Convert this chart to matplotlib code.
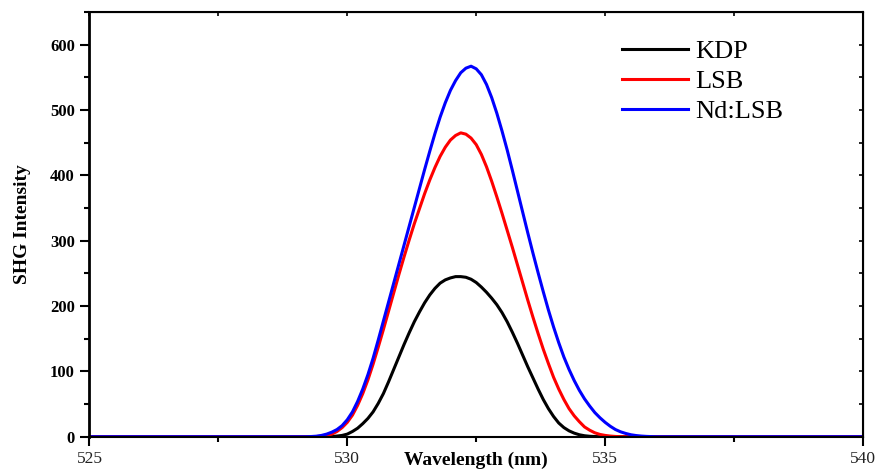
import matplotlib
matplotlib.use("Agg")
import matplotlib.pyplot as plt
from matplotlib.ticker import MultipleLocator

plt.rcParams['font.family'] = ['Liberation Serif', 'DejaVu Serif']

# wavelength grid (nm) the curves were read at
wavelength = [525.0,
              529.0, 529.1, 529.2, 529.3, 529.4, 529.5, 529.6, 529.7, 529.8, 529.9,
              530.0, 530.1, 530.2, 530.3, 530.4, 530.5, 530.6, 530.7, 530.8, 530.9,
              531.0, 531.1, 531.2, 531.3, 531.4, 531.5, 531.6, 531.7, 531.8, 531.9,
              532.0, 532.1, 532.2, 532.3, 532.4, 532.5, 532.6, 532.7, 532.8, 532.9,
              533.0, 533.1, 533.2, 533.3, 533.4, 533.5, 533.6, 533.7, 533.8, 533.9,
              534.0, 534.1, 534.2, 534.3, 534.4, 534.5, 534.6, 534.7, 534.8, 534.9,
              535.0, 535.1, 535.2, 535.3, 535.4, 535.5, 535.6, 535.7, 535.8, 535.9,
              536.0, 540.0]

kdp = [0,
       0, 0, 0, 0, 0, 0, 0.1, 0.3, 1, 2,
       4, 8, 13, 20, 28, 38, 51, 66, 84, 103,
       122, 141, 159, 176, 191, 205, 217, 227, 235, 240,
       243, 245, 245, 244, 241, 236, 229, 221, 212, 202,
       190, 176, 160, 143, 125, 107, 90, 73, 57, 43,
       31, 21, 14, 9, 5.5, 3, 1.5, 0.7, 0.3, 0,
       0, 0, 0, 0, 0, 0, 0, 0, 0, 0,
       0, 0]

lsb = [0,
       0, 0, 0, 0, 0.3, 0.8, 1.8, 4, 8, 14,
       22, 33, 48, 66, 87, 111, 137, 164, 192, 220,
       248, 275, 301, 326, 349, 372, 393, 412, 429, 443,
       454, 461, 465, 463, 457, 447, 432, 413, 391, 367,
       342, 316, 290, 263, 236, 209, 183, 158, 134, 112,
       91, 73, 57, 43, 32, 23, 15, 10, 6, 3.5,
       2, 1, 0.4, 0, 0, 0, 0, 0, 0, 0,
       0, 0]

nd_lsb = [0,
          0, 0, 0, 0.3, 0.8, 2, 4, 7, 11, 17,
          26, 38, 54, 73, 95, 120, 148, 177, 206, 235,
          264, 293, 322, 351, 380, 409, 437, 464, 489, 511,
          530, 545, 557, 564, 567, 563, 554, 539, 519, 495,
          468, 439, 408, 376, 344, 312, 281, 251, 222, 194,
          168, 144, 122, 103, 86, 71, 58, 47, 37, 29,
          22, 16, 11, 7.5, 5, 3, 1.8, 1, 0.5, 0.2,
          0, 0]

fig = plt.figure(figsize=(8.77, 4.73), dpi=100)
ax = fig.add_axes([0.102, 0.0767, 0.882, 0.898])

ax.plot(wavelength, kdp, color="black", lw=2.2, label="KDP")
ax.plot(wavelength, lsb, color="red", lw=2.2, label="LSB")
ax.plot(wavelength, nd_lsb, color="blue", lw=2.2, label="Nd:LSB")

ax.set_xlim(525, 540)
ax.set_ylim(0, 650)
ax.xaxis.set_major_locator(MultipleLocator(5))
ax.xaxis.set_minor_locator(MultipleLocator(2.5))
ax.yaxis.set_major_locator(MultipleLocator(100))
ax.yaxis.set_minor_locator(MultipleLocator(50))

for s in ax.spines.values():
    s.set_linewidth(1.5)
ax.spines['left'].set_linewidth(2)

ax.tick_params(axis='both', which='major', direction='out', length=6.5, width=1.5)
ax.tick_params(axis='both', which='minor', direction='out', length=3.5, width=1.5)
ax.tick_params(axis='x', labelsize=12.5, pad=4, labelcolor='#222222')
ax.tick_params(axis='y', labelsize=12, pad=4)
for lab in ax.get_yticklabels():
    lab.set_fontweight('bold')

# inward ticks on top and right, no labels
top = ax.secondary_xaxis('top')
top.xaxis.set_major_locator(MultipleLocator(5))
top.xaxis.set_minor_locator(MultipleLocator(2.5))
top.tick_params(which='both', direction='in', length=3, width=1.2, labeltop=False)
right = ax.secondary_yaxis('right')
right.yaxis.set_major_locator(MultipleLocator(100))
right.yaxis.set_minor_locator(MultipleLocator(50))
right.tick_params(which='both', direction='in', length=3, width=1.2, labelright=False)

ax.set_xlabel("Wavelength (nm)", fontsize=14, fontweight='bold', labelpad=-11)
ax.set_ylabel("SHG Intensity", fontsize=14, fontweight='bold', labelpad=14)

ax.legend(loc='upper left', bbox_to_anchor=(0.688, 0.935), frameon=False,
          fontsize=19, handlelength=2.5, handletextpad=0.3, labelspacing=0.25,
          borderpad=0, borderaxespad=0)

fig.savefig("out.png", dpi=100)
